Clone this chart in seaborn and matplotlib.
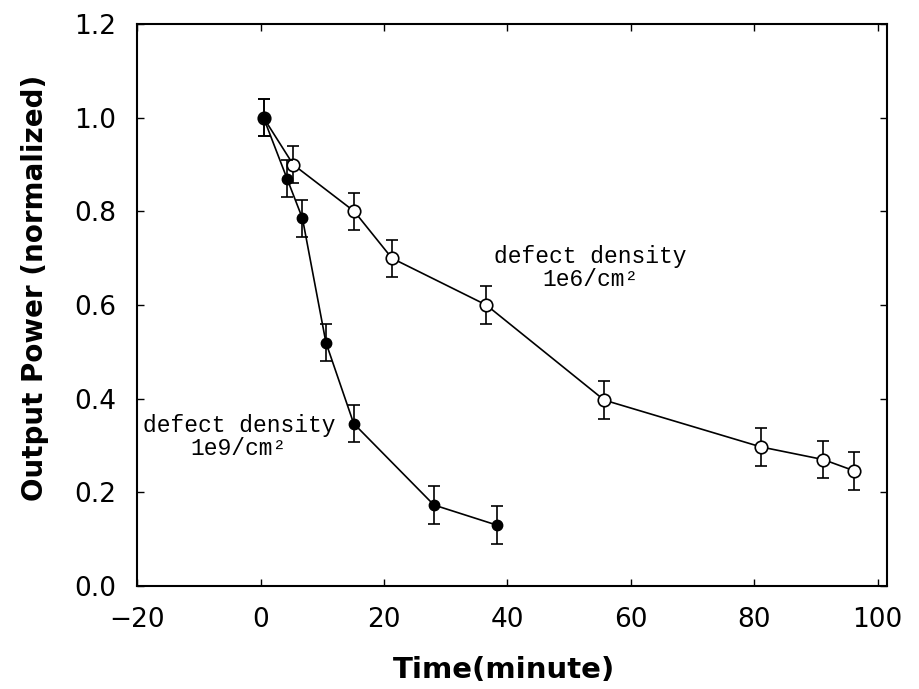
import matplotlib
matplotlib.use("Agg")
import matplotlib.pyplot as plt
import seaborn as sns
import pandas as pd

# data
time_1e9 = [0.5, 4.3, 6.8, 10.6, 15.1, 28.1, 38.3]
power_1e9 = [1.00, 0.87, 0.785, 0.52, 0.347, 0.173, 0.13]
err_1e9 = [0.04, 0.04, 0.04, 0.04, 0.04, 0.04, 0.04]

time_1e6 = [0.5, 5.3, 15.2, 21.3, 36.6, 55.7, 81.1, 91.2, 96.2]
power_1e6 = [1.00, 0.90, 0.80, 0.70, 0.60, 0.397, 0.297, 0.27, 0.246]
err_1e6 = [0.04, 0.04, 0.04, 0.04, 0.04, 0.04, 0.04, 0.04, 0.04]

x_ticks = [-20, 0, 20, 40, 60, 80, 100]
y_ticks = [0.0, 0.2, 0.4, 0.6, 0.8, 1.0, 1.2]

sns.set_style("ticks")
plt.rcParams['font.family'] = ['DejaVu Sans']
plt.rcParams['text.color'] = 'black'
plt.rcParams['axes.labelcolor'] = 'black'

df6 = pd.DataFrame({"t": time_1e6, "p": power_1e6, "e": err_1e6})
df9 = pd.DataFrame({"t": time_1e9, "p": power_1e9, "e": err_1e9})

fig = plt.figure(figsize=(9.2, 6.89), dpi=100)
ax = fig.add_axes([0.149, 0.1495, 0.815, 0.8155])

# open-circle series
ax.errorbar(df6["t"], df6["p"], yerr=df6["e"], fmt="none", ecolor="black",
            elinewidth=1.2, capsize=4.5, capthick=1.2, zorder=2)
sns.lineplot(data=df6, x="t", y="p", ax=ax, color="black", linewidth=1.2,
             marker="o", markersize=9, markerfacecolor="white",
             markeredgecolor="black", markeredgewidth=1.2, zorder=3)

# filled-circle series
ax.errorbar(df9["t"], df9["p"], yerr=df9["e"], fmt="none", ecolor="black",
            elinewidth=1.2, capsize=4.5, capthick=1.2, zorder=4)
sns.lineplot(data=df9, x="t", y="p", ax=ax, color="black", linewidth=1.2,
             marker="o", markersize=7.5, markerfacecolor="black",
             markeredgecolor="black", markeredgewidth=1.0, zorder=5)

ax.set_xlim(-20, 101.5)
ax.set_ylim(0, 1.2)
ax.set_xticks(x_ticks)
ax.set_yticks(y_ticks)
ax.set_xticklabels(["\u221220", "0", "20", "40", "60", "80", "100"])
ax.set_yticklabels([f"{v:.1f}" for v in y_ticks])

ax.tick_params(direction="in", length=5, width=1.0, top=True, right=True,
               labelsize=19, pad=15, colors="black")
for s in ax.spines.values():
    s.set_linewidth(1.5)
    s.set_color("black")

ax.set_xlabel("Time(minute)", fontsize=21, fontweight="bold", color="black")
ax.set_ylabel("Output Power (normalized)", fontsize=20, fontweight="bold",
              color="black")
ax.xaxis.set_label_coords(0.49, -0.125)
ax.yaxis.set_label_coords(-0.118, 0.53)

ann_font = dict(family="Liberation Mono", fontsize=16.5, color="black",
                ha="center", va="center", linespacing=1.0)
ax.text(53.5, 0.68, "defect density\n1e6/cm\u00b2", **ann_font)
ax.text(-3.5, 0.318, "defect density\n1e9/cm\u00b2", **ann_font)

fig.savefig("out.png", dpi=100)
